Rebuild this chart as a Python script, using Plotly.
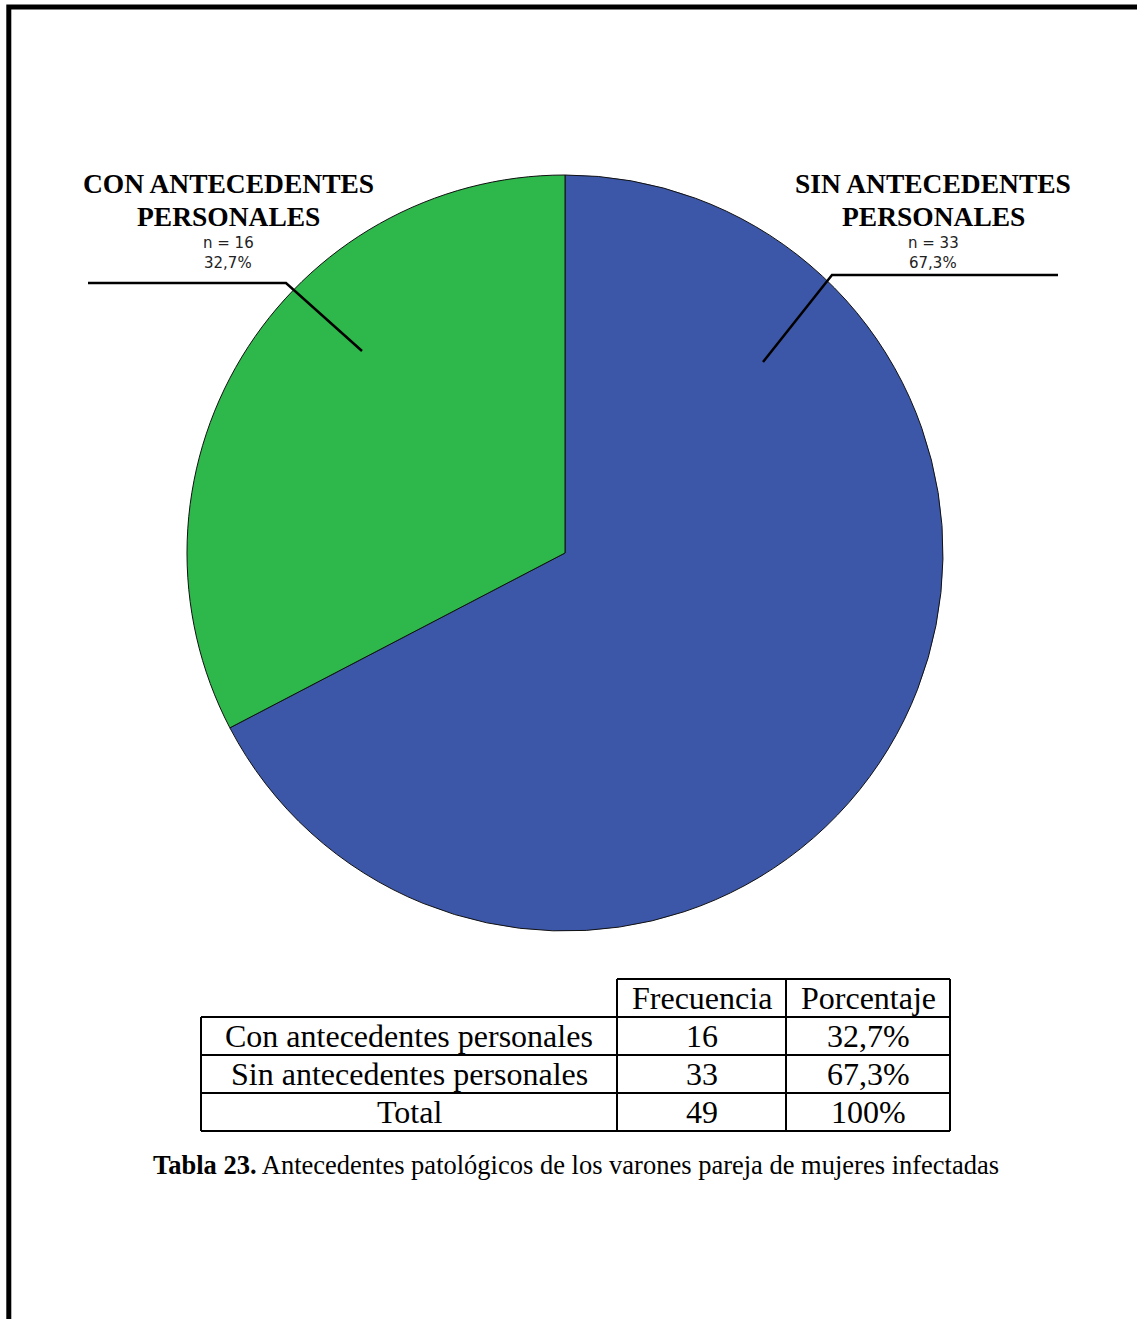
import plotly.graph_objects as go

# ---- data ----
categorias = ["Sin antecedentes personales", "Con antecedentes personales"]
etiquetas = ["SIN ANTECEDENTES<br>PERSONALES", "CON ANTECEDENTES<br>PERSONALES"]
frecuencias = [33, 16]
colores = ["#3D57A8", "#2EB74A"]

filas_tabla = ["Con antecedentes personales", "Sin antecedentes personales", "Total"]
encabezados = ["Frecuencia", "Porcentaje"]
titulo_tabla = "<b>Tabla 23.</b> Antecedentes patológicos de los varones pareja de mujeres infectadas"

W, H = 1137, 1319


def px(x):
    return x / W


def py(y):
    return 1 - y / H


def pct(v, total):
    return ("%.1f" % (100.0 * v / total)).replace(".", ",") + "%"


total = sum(frecuencias)

# pie geometry (pixels)
cx, cy, r = 565, 553, 378

fig = go.Figure()
fig.add_trace(go.Pie(
    labels=categorias,
    values=frecuencias,
    sort=False,
    direction="clockwise",
    rotation=0,
    marker=dict(colors=colores, line=dict(color="#111111", width=1)),
    textinfo="none",
    hoverinfo="skip",
    showlegend=False,
    domain=dict(x=[px(cx - r), px(cx + r)], y=[py(cy + r), py(cy - r)]),
))

shapes = []
annotations = []

# page frame: left and top rules
shapes.append(dict(type="path", xref="paper", yref="paper",
                   path="M %f,%f L %f,%f L %f,%f" % (px(8.8), py(H + 5), px(8.8), py(7), px(W + 5), py(7)),
                   line=dict(color="black", width=5)))

# slice labels with leader lines
label_specs = [
    # index, label centre x, leader points (outer end, elbow, inner end)
    (1, 228, [(88, 283), (286, 283), (362, 351)]),
    (0, 933, [(1058, 275), (832, 275), (763, 362)]),
]
serif = "Liberation Serif, Times New Roman, serif"
for idx, lx, pts in label_specs:
    path = "M " + " L ".join("%f,%f" % (px(x), py(y)) for x, y in pts)
    shapes.append(dict(type="path", xref="paper", yref="paper", path=path,
                       line=dict(color="black", width=2.5)))
    title_lines = etiquetas[idx].split("<br>")
    for k, line in enumerate(title_lines):
        annotations.append(dict(x=px(lx), y=py(183 + 33 * k), xref="paper", yref="paper",
                                text="<b>" + line + "</b>", showarrow=False,
                                xanchor="center", yanchor="middle",
                                font=dict(family=serif, size=27.5, color="black")))
    annotations.append(dict(x=px(lx), y=py(243), xref="paper", yref="paper",
                            text="n = %d" % frecuencias[idx], showarrow=False,
                            xanchor="center", yanchor="middle",
                            font=dict(family="DejaVu Sans", size=15, color="#222222")))
    annotations.append(dict(x=px(lx), y=py(263), xref="paper", yref="paper",
                            text=pct(frecuencias[idx], total), showarrow=False,
                            xanchor="center", yanchor="middle",
                            font=dict(family="DejaVu Sans", size=15, color="#222222")))

# summary table
col_x = [201, 617, 786, 950]
row_y = [979, 1017, 1055, 1093, 1131]
tcolor = "black"
tw = 2

# header box (columns 2-3 only)
shapes.append(dict(type="line", xref="paper", yref="paper",
                   x0=px(col_x[1]), x1=px(col_x[3]), y0=py(row_y[0]), y1=py(row_y[0]),
                   line=dict(color=tcolor, width=tw)))
for yv in row_y[1:]:
    shapes.append(dict(type="line", xref="paper", yref="paper",
                       x0=px(col_x[0]), x1=px(col_x[3]), y0=py(yv), y1=py(yv),
                       line=dict(color=tcolor, width=tw)))
shapes.append(dict(type="line", xref="paper", yref="paper",
                   x0=px(col_x[0]), x1=px(col_x[0]), y0=py(row_y[1]), y1=py(row_y[-1]),
                   line=dict(color=tcolor, width=tw)))
for xv in col_x[1:]:
    shapes.append(dict(type="line", xref="paper", yref="paper",
                       x0=px(xv), x1=px(xv), y0=py(row_y[0]), y1=py(row_y[-1]),
                       line=dict(color=tcolor, width=tw)))

tfont = dict(family=serif, size=32, color="black")


def cell(ci, ri, text):
    annotations.append(dict(x=px((col_x[ci] + col_x[ci + 1]) / 2),
                            y=py((row_y[ri] + row_y[ri + 1]) / 2),
                            xref="paper", yref="paper", text=text, showarrow=False,
                            xanchor="center", yanchor="middle", font=tfont))


for j, h in enumerate(encabezados):
    cell(j + 1, 0, h)

# table rows follow the order "Con", "Sin", "Total"
orden = [1, 0]
for i, idx in enumerate(orden):
    cell(0, i + 1, filas_tabla[i])
    cell(1, i + 1, str(frecuencias[idx]))
    cell(2, i + 1, pct(frecuencias[idx], total))
cell(0, 3, filas_tabla[2])
cell(1, 3, str(total))
cell(2, 3, "100%")

annotations.append(dict(x=px(576), y=py(1165), xref="paper", yref="paper",
                        text=titulo_tabla, showarrow=False,
                        xanchor="center", yanchor="middle",
                        font=dict(family=serif, size=26.5, color="black")))

fig.update_layout(
    width=W, height=H,
    margin=dict(l=0, r=0, t=0, b=0),
    paper_bgcolor="white",
    plot_bgcolor="white",
    shapes=shapes,
    annotations=annotations,
)

fig.write_html("out.html")
